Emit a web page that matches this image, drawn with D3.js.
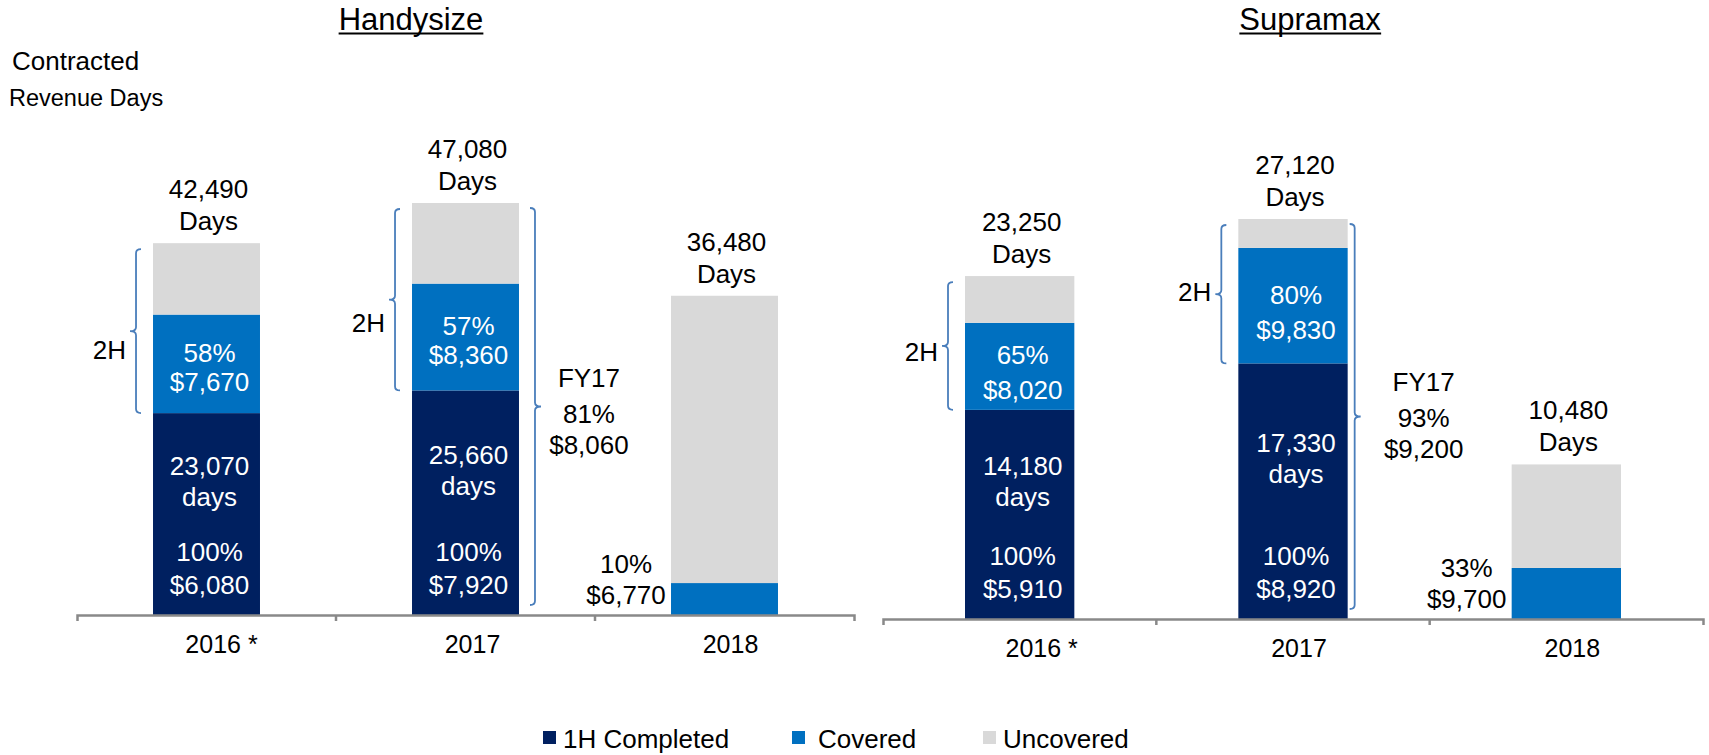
<!DOCTYPE html>
<html>
<head>
<meta charset="utf-8">
<script src="https://cdnjs.cloudflare.com/ajax/libs/d3/7.8.5/d3.min.js"></script>
<style>
  body { margin: 0; background: #fff; }
  svg { display: block; }
</style>
</head>
<body>
<script>
'use strict';

//chart data
var categories = ['2016 *', '2017', '2018'];
var seriesNames = ['1H Completed', 'Covered', 'Uncovered'];

var handyTotal = [42490, 47080, 36480];
var handyCompleted = [23070, 25660, 0];
var handyCovered = [11260, 12210, 3650];
var handyCoveredLabel = [['58%', '$7,670'], ['57%', '$8,360'], ['10%', '$6,770']];
var handyCompletedLabel = [['100%', '$6,080'], ['100%', '$7,920'], null];
var handyFY = ['FY17', '81%', '$8,060'];

var supraTotal = [23250, 27120, 10480];
var supraCompleted = [14180, 17330, 0];
var supraCovered = [5900, 7830, 3460];
var supraCoveredLabel = [['65%', '$8,020'], ['80%', '$9,830'], ['33%', '$9,700']];
var supraCompletedLabel = [['100%', '$5,910'], ['100%', '$8,920'], null];
var supraFY = ['FY17', '93%', '$9,200'];

//styles
var FONT = '"Liberation Sans", Arial, sans-serif';
var colors = ['#002060', '#0070C0', '#D9D9D9'];
var braceColor = '#4A7EBB';
var axisColor = '#898989';
var fmt = d3.format(',');

var width = 1709, height = 755;
var svg = d3.select('body').append('svg')
  .attr('width', width).attr('height', height)
  .attr('font-family', FONT);

//layout of the two panels
var panels = [
  { title: 'Handysize', titleX: 411, left: 77, right: 854, base: 615, top: 203, barRatio: 0.413,
    total: handyTotal, completed: handyCompleted, covered: handyCovered,
    coveredLabel: handyCoveredLabel, completedLabel: handyCompletedLabel, fy: handyFY,
    lineGap: 29, fyGap: 16, fyDx: 70, catDx: [15, 7, 6] },
  { title: 'Supramax', titleX: 1310, left: 883, right: 1703, base: 619, top: 219, barRatio: 0.4,
    total: supraTotal, completed: supraCompleted, covered: supraCovered,
    coveredLabel: supraCoveredLabel, completedLabel: supraCompletedLabel, fy: supraFY,
    lineGap: 35, fyGap: 7, fyDx: 76, catDx: [22, 6, 6] }
];

function addText(parent, txt, x, y, opts) {
  opts = opts || {};
  return parent.append('text')
    .attr('x', x).attr('y', y)
    .attr('text-anchor', opts.anchor || 'middle')
    .attr('font-size', opts.size || 26)
    .attr('fill', opts.color || '#000')
    .text(txt);
}

//curly brace, dir -1 = tip points left, 1 = tip points right
function brace(x, y0, y1, dir) {
  var m = (y0 + y1) / 2, hook = 5, tip = 6;
  return 'M' + (x - dir * hook) + ',' + y0 +
    'Q' + x + ',' + y0 + ' ' + x + ',' + (y0 + 4) +
    'L' + x + ',' + (m - 4) +
    'Q' + x + ',' + m + ' ' + (x + dir * tip) + ',' + m +
    'Q' + x + ',' + m + ' ' + x + ',' + (m + 4) +
    'L' + x + ',' + (y1 - 4) +
    'Q' + x + ',' + y1 + ' ' + (x - dir * hook) + ',' + y1;
}

panels.forEach(function (p) {
  var g = svg.append('g');

  var x = d3.scaleBand().domain(categories).range([p.left, p.right]).padding(0);
  var y = d3.scaleLinear().domain([0, d3.max(p.total)]).range([p.base, p.top]);
  var barW = x.bandwidth() * p.barRatio;

  var rows = categories.map(function (c, i) {
    return {
      cat: c, i: i, total: p.total[i],
      completed: p.completed[i], covered: p.covered[i],
      uncovered: p.total[i] - p.completed[i] - p.covered[i]
    };
  });
  var stacked = d3.stack().keys(['completed', 'covered', 'uncovered'])(rows);

  function barX(d) { return x(d.cat) + (x.bandwidth() - barW) / 2; }
  function barC(d) { return x(d.cat) + x.bandwidth() / 2; }

  //bars
  g.selectAll('.layer').data(stacked).enter().append('g')
    .attr('fill', function (d, i) { return colors[i]; })
    .selectAll('rect').data(function (d) { return d; }).enter().append('rect')
    .attr('x', function (d) { return barX(d.data); })
    .attr('width', barW)
    .attr('y', function (d) { return y(d[1]); })
    .attr('height', function (d) { return y(d[0]) - y(d[1]); });

  //x-axis
  var axis = g.append('g').attr('transform', 'translate(0,' + p.base + ')')
    .call(d3.axisBottom(x).tickSizeInner(0).tickSizeOuter(6).tickPadding(20));
  axis.attr('font-family', FONT).attr('font-size', 25);
  axis.select('.domain').attr('stroke', axisColor).attr('stroke-width', 2.5);
  axis.selectAll('.tick text').attr('fill', '#000')
    .attr('dx', function (d, i) { return p.catDx[i]; });
  axis.selectAll('.sep').data(categories.slice(1)).enter().append('line')
    .attr('class', 'sep')
    .attr('x1', function (d) { return x(d); }).attr('x2', function (d) { return x(d); })
    .attr('y1', 0).attr('y2', 6)
    .attr('stroke', axisColor).attr('stroke-width', 2.5);

  //totals above bars
  rows.forEach(function (d) {
    addText(g, fmt(d.total), barC(d) + 2, y(d.total) - 45);
    addText(g, 'Days', barC(d) + 2, y(d.total) - 13);
  });

  rows.forEach(function (d, i) {
    var lab = p.coveredLabel[i];
    if (d.completed > 0) {
      //covered share inside the bar
      var yc = (y(d.completed) + y(d.completed + d.covered)) / 2;
      addText(g, lab[0], barC(d) + 3, yc - 2, { color: '#fff' });
      addText(g, lab[1], barC(d) + 3, yc - 2 + p.lineGap, { color: '#fff' });

      //completed days and rate
      var ym = (y(0) + y(d.completed)) / 2;
      addText(g, fmt(d.completed), barC(d) + 3, ym - 39, { color: '#fff' });
      addText(g, 'days', barC(d) + 3, ym - 8, { color: '#fff' });
      addText(g, p.completedLabel[i][0], barC(d) + 3, y(0) - 54, { color: '#fff' });
      addText(g, p.completedLabel[i][1], barC(d) + 3, y(0) - 21, { color: '#fff' });

      //2H brace
      var bx = barX(d) - 17;
      g.append('path').attr('d', brace(bx, y(d.total) + 6, y(d.completed), -1))
        .attr('fill', 'none').attr('stroke', braceColor).attr('stroke-width', 1.8);
      addText(g, '2H', bx - 10, yc - 5, { anchor: 'end' });
    } else {
      //next year: covered share beside the bar
      addText(g, lab[0], barX(d) - 45, y(0) - 42);
      addText(g, lab[1], barX(d) - 45, y(0) - 11);
    }
  });

  //full year brace on the middle bar
  var fy = rows[1];
  var fx = barX(fy) + barW + p.fyGap;
  g.append('path').attr('d', brace(fx, y(fy.total) + 5, y(0) - 10, 1))
    .attr('fill', 'none').attr('stroke', braceColor).attr('stroke-width', 1.8);
  addText(g, p.fy[0], barX(fy) + barW + p.fyDx, y(0) - 228);
  addText(g, p.fy[1], barX(fy) + barW + p.fyDx, y(0) - 192);
  addText(g, p.fy[2], barX(fy) + barW + p.fyDx, y(0) - 161);

  //panel title, underlined
  var t = addText(g, p.title, p.titleX, 30, { size: 31 });
  var bb = t.node().getBBox();
  g.append('line').attr('x1', bb.x).attr('x2', bb.x + bb.width)
    .attr('y1', 33.5).attr('y2', 33.5).attr('stroke', '#000').attr('stroke-width', 2);
});

//y-axis caption
addText(svg, 'Contracted', 12, 70, { anchor: 'start', size: 26 });
addText(svg, 'Revenue Days', 9, 106, { anchor: 'start', size: 23.5 });

//legend
var legendX = [543, 792, 983];
var legendDx = [20, 26, 20];
var legend = svg.append('g');
legend.selectAll('rect').data(seriesNames).enter().append('rect')
  .attr('x', function (d, i) { return legendX[i]; })
  .attr('y', 731).attr('width', 13).attr('height', 13)
  .attr('fill', function (d, i) { return colors[i]; });
legend.selectAll('text').data(seriesNames).enter().append('text')
  .attr('x', function (d, i) { return legendX[i] + legendDx[i]; })
  .attr('y', 748).attr('font-size', 26)
  .text(function (d) { return d; });
</script>
</body>
</html>
